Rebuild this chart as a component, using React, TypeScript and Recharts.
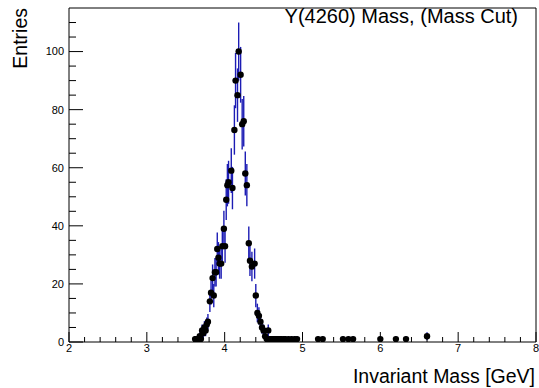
import React from 'react';
import { ScatterChart, Scatter, XAxis, YAxis, ErrorBar, ReferenceLine } from 'recharts';

const massValues = [
  3.62, 3.635, 3.65, 3.665, 3.68, 3.695, 3.71, 3.725, 3.74, 3.755, 3.77, 3.785,
  3.81, 3.825, 3.845, 3.86, 3.875, 3.89, 3.905, 3.92, 3.935, 3.955, 3.97, 3.99,
  4.005, 4.02, 4.035, 4.05, 4.085, 4.1, 4.125, 4.14, 4.165, 4.18, 4.205,
  4.225, 4.245, 4.265, 4.285, 4.31, 4.325, 4.35, 4.385, 4.4, 4.42, 4.44,
  4.46, 4.48, 4.5, 4.52, 4.54, 4.56, 4.575, 4.59, 4.61, 4.63, 4.65, 4.67, 4.69,
  4.71, 4.73, 4.76, 4.78, 4.82, 4.86, 4.9, 4.93, 5.2, 5.26, 5.52, 5.59, 5.65,
  6.0, 6.2, 6.33, 6.6,
];

const entryCounts = [
  1, 1, 1, 1, 2, 1, 4, 3, 5, 4, 6, 7,
  14, 17, 22, 16, 24, 24, 32, 29, 27, 27, 33, 39,
  33, 49, 54, 55, 59, 53, 73, 90, 85, 100, 92,
  75, 76, 58, 54, 34, 28, 26, 27, 16, 10, 9,
  7, 5, 4, 2, 1, 4, 1, 1, 1, 1, 1, 1, 1,
  1, 1, 1, 1, 1, 1, 1, 1, 1, 1, 1, 1, 1,
  1, 1, 1, 2,
];

const entryErrors = [
  1, 1, 1, 1, 1.4, 1, 2, 1.7, 2.2, 2, 2.4, 2.6,
  3.7, 4.1, 4.7, 4, 4.9, 4.9, 5.7, 5.4, 5.2, 5.2, 5.7, 6.2,
  5.7, 7, 7.3, 7.4, 7.7, 7.3, 8.5, 9.5, 9.2, 10, 9.6,
  8.7, 8.7, 7.6, 7.3, 5.8, 5.3, 5.1, 5.2, 4, 3.2, 3,
  2.6, 2.2, 2, 1.4, 1, 2, 1, 1, 1, 1, 1, 1, 1,
  1, 1, 1, 1, 1, 1, 1, 1, 1, 1, 1, 1, 1,
  1, 1, 1, 1.4,
];

const xTickValues = [
  2, 2.2, 2.4, 2.6, 2.8, 3, 3.2, 3.4, 3.6, 3.8, 4, 4.2, 4.4, 4.6, 4.8,
  5, 5.2, 5.4, 5.6, 5.8, 6, 6.2, 6.4, 6.6, 6.8, 7, 7.2, 7.4, 7.6, 7.8, 8,
];
const xMajorLabels = ['2', '3', '4', '5', '6', '7', '8'];

const yTickValues = [0, 5, 10, 15, 20, 25, 30, 35, 40, 45, 50, 55, 60, 65, 70, 75, 80, 85, 90, 95, 100, 105, 110];
const yMajorLabels = ['0', '20', '40', '60', '80', '100'];

const chartTitle = 'Y(4260) Mass, (Mass Cut)';
const xTitle = 'Invariant Mass [GeV]';
const yTitle = 'Entries';

const data = massValues.map((m, i) => ({ x: m, y: entryCounts[i], err: entryErrors[i] }));

const FONT = '"Liberation Sans", Arial, Helvetica, sans-serif';

function XTick(props: any) {
  const { x, y, payload } = props;
  const v = payload.value;
  const label = String(v);
  const major = xMajorLabels.includes(label);
  return (
    <g>
      <line x1={x} x2={x} y1={y} y2={y - (major ? 10 : 5)} stroke="#000" strokeWidth={1} />
      {major && (
        <text x={x} y={y + 10} textAnchor="middle" fontSize={11} fontFamily={FONT} fill="#000">
          {label}
        </text>
      )}
    </g>
  );
}

function YTick(props: any) {
  const { x, y, payload } = props;
  const v = payload.value;
  const label = String(v);
  const major = yMajorLabels.includes(label);
  return (
    <g>
      <line x1={x} x2={x + (major ? 14 : 7)} y1={y} y2={y} stroke="#000" strokeWidth={1} />
      {major && (
        <text x={x - 5} y={y} dy="0.35em" textAnchor="end" fontSize={11} fontFamily={FONT} fill="#000">
          {label}
        </text>
      )}
    </g>
  );
}

function Dot(props: any) {
  const { cx, cy } = props;
  return <circle cx={cx} cy={cy} r={3.2} fill="#000" />;
}

export default function App() {
  return (
    <div style={{ position: 'absolute', left: 0, top: 0, width: 539, height: 388, background: '#fff' }}>
      <ScatterChart width={539} height={388} margin={{ top: 8, right: 3, bottom: 0, left: 0 }}>
        <XAxis
          type="number"
          dataKey="x"
          domain={[2, 8]}
          ticks={xTickValues}
          interval={0}
          allowDataOverflow
          height={46}
          tickSize={0}
          tickMargin={0}
          tickLine={false}
          axisLine={{ stroke: '#000' }}
          tick={<XTick />}
        />
        <YAxis
          type="number"
          dataKey="y"
          domain={[0, 115]}
          ticks={yTickValues}
          interval={0}
          allowDataOverflow
          width={69}
          tickSize={0}
          tickMargin={0}
          tickLine={false}
          axisLine={{ stroke: '#000' }}
          tick={<YTick />}
        />
        <ReferenceLine y={115} stroke="#000" strokeWidth={1} />
        <ReferenceLine x={8} stroke="#000" strokeWidth={1} />
        <Scatter data={data} isAnimationActive={false} shape={<Dot />}>
          <ErrorBar dataKey="err" direction="y" width={0} stroke="#1c1cb4" strokeWidth={1.4} isAnimationActive={false} />
        </Scatter>
      </ScatterChart>
      <svg
        width={539}
        height={388}
        style={{ position: 'absolute', left: 0, top: 0, pointerEvents: 'none' }}
      >
        <text x={518} y={23} textAnchor="end" fontSize={20} fontFamily={FONT} fill="#000">
          {chartTitle}
        </text>
        <text x={535} y={383} textAnchor="end" fontSize={19.5} fontFamily={FONT} fill="#000">
          {xTitle}
        </text>
        <text
          transform="translate(27, 8) rotate(-90)"
          textAnchor="end"
          fontSize={19.5}
          fontFamily={FONT}
          fill="#000"
        >
          {yTitle}
        </text>
      </svg>
    </div>
  );
}
